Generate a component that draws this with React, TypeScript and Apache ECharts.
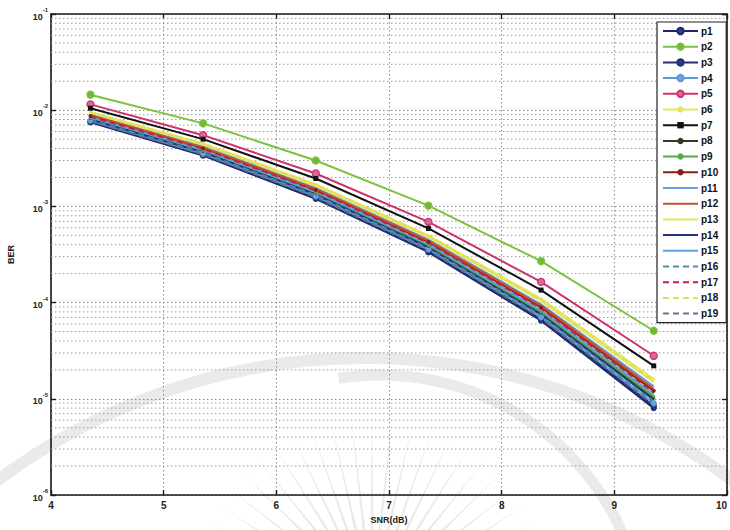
import React, { useEffect, useRef } from "react";
import * as echarts from "echarts";

// SNR sample points (dB)
const SNR_DB = [4.35, 5.35, 6.35, 7.35, 8.35, 9.35];

// BER curves, one per configuration
const p1 = [7.5e-3, 3.37e-3, 1.2e-3, 3.34e-4, 6.5e-5, 8.0e-6];
const p2 = [1.45e-2, 7.3e-3, 3.0e-3, 1.02e-3, 2.7e-4, 5.1e-5];
const p3 = [7.6e-3, 3.44e-3, 1.23e-3, 3.44e-4, 6.7e-5, 8.4e-6];
const p4 = [7.8e-3, 3.53e-3, 1.27e-3, 3.57e-4, 7.05e-5, 9.0e-6];
const p5 = [1.15e-2, 5.5e-3, 2.2e-3, 6.9e-4, 1.64e-4, 2.8e-5];
const p6 = [9.6e-3, 4.5e-3, 1.7e-3, 5.0e-4, 1.1e-4, 1.6e-5];
const p7 = [1.05e-2, 5.0e-3, 1.95e-3, 5.9e-4, 1.35e-4, 2.2e-5];
const p8 = [8.2e-3, 3.73e-3, 1.36e-3, 3.85e-4, 7.8e-5, 1.02e-5];
const p9 = [8.3e-3, 3.78e-3, 1.38e-3, 3.93e-4, 8.0e-5, 1.06e-5];
const p10 = [8.7e-3, 4.0e-3, 1.48e-3, 4.26e-4, 8.9e-5, 1.21e-5];
const p11 = [9.0e-3, 4.19e-3, 1.56e-3, 4.52e-4, 9.6e-5, 1.35e-5];
const p12 = [8.9e-3, 4.1e-3, 1.52e-3, 4.4e-4, 9.3e-5, 1.28e-5];
const p13 = [9.4e-3, 4.37e-3, 1.64e-3, 4.8e-4, 1.04e-4, 1.49e-5];
const p14 = [8.0e-3, 3.66e-3, 1.33e-3, 3.74e-4, 7.5e-5, 9.7e-6];
const p15 = [8.45e-3, 3.87e-3, 1.42e-3, 4.06e-4, 8.35e-5, 1.12e-5];
const p16 = [7.9e-3, 3.6e-3, 1.3e-3, 3.65e-4, 7.3e-5, 9.3e-6];
const p17 = [8.6e-3, 3.96e-3, 1.46e-3, 4.17e-4, 8.7e-5, 1.17e-5];
const p18 = [9.5e-3, 4.44e-3, 1.67e-3, 4.9e-4, 1.07e-4, 1.55e-5];
const p19 = [7.7e-3, 3.49e-3, 1.25e-3, 3.5e-4, 6.9e-5, 8.7e-6];

const SERIES_NAMES = [
  "p1", "p2", "p3", "p4", "p5", "p6", "p7", "p8", "p9", "p10",
  "p11", "p12", "p13", "p14", "p15", "p16", "p17", "p18", "p19",
];
const SERIES_VALUES = [
  p1, p2, p3, p4, p5, p6, p7, p8, p9, p10,
  p11, p12, p13, p14, p15, p16, p17, p18, p19,
];

// Line colour, dash and marker for each curve
type Look = { color: string; dashed?: boolean; symbol?: string; size?: number; fill?: string };
const LOOKS: Look[] = [
  { color: "#1c2a6b", symbol: "circle", size: 5, fill: "#2c3f8c" },
  { color: "#7cc23a", symbol: "circle", size: 7, fill: "#6fb83a" },
  { color: "#203078", symbol: "circle", size: 5, fill: "#2a3c8a" },
  { color: "#5c9ad6", symbol: "circle", size: 5, fill: "#6aa6de" },
  { color: "#d0306f", symbol: "circle", size: 7, fill: "#d86aa0" },
  { color: "#e6e65c", symbol: "circle", size: 3, fill: "#e6e65c" },
  { color: "#111111", symbol: "rect", size: 5, fill: "#111111" },
  { color: "#2f3d1c", symbol: "circle", size: 3, fill: "#2f3d1c" },
  { color: "#5aa84c", symbol: "circle", size: 3, fill: "#5aa84c" },
  { color: "#8c1c1c", symbol: "circle", size: 4, fill: "#8c1c1c" },
  { color: "#5fa2e2" },
  { color: "#c2522c" },
  { color: "#e4e45e" },
  { color: "#1f3682" },
  { color: "#5ca2de" },
  { color: "#4a92aa", dashed: true },
  { color: "#c22042", dashed: true },
  { color: "#dede5e", dashed: true },
  { color: "#62728f", dashed: true },
];

// Log axis range and the minor grid multiples within each decade
const Y_MIN = 1e-6;
const Y_MAX = 1e-1;
const MINOR_MULTIPLES = [2, 3, 4, 5, 6, 7, 8, 9];
const DECADES = [1e-6, 1e-5, 1e-4, 1e-3, 1e-2];
const X_MIN = 4;
const X_MAX = 10;

const FONT = "'Liberation Sans', Arial, sans-serif";
const DOTS = [1.5, 2.5];

function watermark() {
  const wm = "rgba(150,150,150,0.2)";
  const rays: any[] = [];
  const cx = 372;
  const cy = 600;
  for (let a = 205; a <= 335; a += 6.5) {
    const t = (a * Math.PI) / 180;
    const r0 = 70;
    const r1 = 185;
    const w = 0.02;
    rays.push({
      type: "polygon",
      silent: true,
      shape: {
        points: [
          [cx + r0 * Math.cos(t - w), cy + r0 * Math.sin(t - w)],
          [cx + r1 * Math.cos(t), cy + r1 * Math.sin(t)],
          [cx + r0 * Math.cos(t + w), cy + r0 * Math.sin(t + w)],
        ],
      },
      style: { fill: wm },
    });
  }
  return [
    {
      type: "group",
      silent: true,
      z: 50,
      children: [
        {
          type: "arc",
          shape: { cx: 365, cy: 970, r: 612, startAngle: Math.PI, endAngle: Math.PI * 2 },
          style: { stroke: wm, lineWidth: 12, fill: "none" },
        },
        {
          type: "arc",
          shape: { cx: 380, cy: 640, r: 265, startAngle: Math.PI * 1.45, endAngle: Math.PI * 1.95 },
          style: { stroke: wm, lineWidth: 11, fill: "none" },
        },
        ...rays,
      ],
    },
  ];
}

export default function App() {
  const ref = useRef<HTMLDivElement>(null);

  useEffect(() => {
    if (!ref.current) return;
    const chart = echarts.init(ref.current, undefined, { renderer: "svg" });

    const minorGrid: number[][] = [];
    DECADES.forEach((d) => MINOR_MULTIPLES.forEach((m) => minorGrid.push([X_MIN, m * d])));

    // dotted minor grid rows at 2..9 x 10^k
    const minorGridSeries: any = {
      type: "custom",
      silent: true,
      z: 1,
      data: minorGrid,
      renderItem: (_p: any, api: any) => {
        const v = api.value(1);
        const a = api.coord([X_MIN, v]);
        const b = api.coord([X_MAX, v]);
        return {
          type: "line",
          shape: { x1: a[0], y1: a[1], x2: b[0], y2: b[1] },
          style: { stroke: "#9a9a9a", lineWidth: 1, lineDash: DOTS },
        };
      },
    };

    const series = SERIES_NAMES.map((name, i) => {
      const look = LOOKS[i];
      return {
        name,
        type: "line",
        data: SNR_DB.map((x, j) => [x, SERIES_VALUES[i][j]]),
        symbol: look.symbol || "none",
        symbolSize: look.size || 0,
        showSymbol: !!look.symbol,
        lineStyle: {
          color: look.color,
          width: 2,
          type: look.dashed ? [6, 4] : "solid",
        },
        itemStyle: {
          color: look.fill || look.color,
          borderColor: look.color,
          borderWidth: look.symbol === "circle" && (look.size || 0) > 4 ? 1.3 : 0,
        },
        emphasis: { disabled: true },
        z: 3,
      };
    });

    const legendData = SERIES_NAMES.map((name, i) =>
      LOOKS[i].symbol
        ? { name }
        : { name, itemStyle: { opacity: 0 } }
    );

    const axisLine = { show: true, lineStyle: { color: "#1a1a1a", width: 1.6 } };
    const splitDotted = { show: true, lineStyle: { type: DOTS, color: "#8a8a8a", width: 1 } };
    const tickIn = { show: true, inside: true, length: 5, lineStyle: { color: "#1a1a1a", width: 1.4 } };
    const labelText = { fontSize: 10, fontWeight: "bold", color: "#222", fontFamily: FONT };

    chart.setOption({
      animation: false,
      backgroundColor: "#ffffff",
      textStyle: { fontFamily: FONT },
      grid: { left: 51, right: 3, top: 14, bottom: 35, containLabel: false, outerBoundsMode: "none" },
      legend: {
        orient: "vertical",
        left: 657,
        top: 22,
        data: legendData,
        selectedMode: false,
        backgroundColor: "#ffffff",
        borderColor: "#222222",
        borderWidth: 1.2,
        padding: [4, 8, 4, 5],
        itemWidth: 35,
        itemHeight: 8,
        itemGap: 5.7,
        textStyle: { ...labelText, color: "#111", lineHeight: 10, padding: [0, 0, 0, -2] },
        z: 20,
      },
      xAxis: [
        {
          type: "value",
          min: X_MIN,
          max: X_MAX,
          interval: 1,
          position: "bottom",
          axisLine,
          axisTick: tickIn,
          axisLabel: { ...labelText, margin: 5, alignMaxLabel: "right" },
          splitLine: splitDotted,
          name: "SNR(dB)",
          nameLocation: "middle",
          nameGap: 20,
          nameTextStyle: { ...labelText, fontSize: 9 },
        },
        {
          type: "value",
          min: X_MIN,
          max: X_MAX,
          interval: 1,
          position: "top",
          axisLine,
          axisTick: tickIn,
          axisLabel: { show: false },
          splitLine: { show: false },
        },
      ],
      yAxis: [
        {
          type: "log",
          logBase: 10,
          min: Y_MIN,
          max: Y_MAX,
          position: "left",
          axisLine,
          axisTick: tickIn,
          axisLabel: {
            margin: 3,
            formatter: (v: number) => `{b|10}{s|${Math.round(Math.log10(v))}}`,
            rich: {
              b: { ...labelText, fontSize: 9, lineHeight: 14, verticalAlign: "bottom" },
              s: { ...labelText, fontSize: 6, verticalAlign: "top", padding: [0, 0, 6, 0] },
            },
          },
          splitLine: splitDotted,
          name: "BER",
          nameLocation: "middle",
          nameGap: 36,
          nameTextStyle: { ...labelText, fontSize: 9 },
        },
        {
          type: "log",
          logBase: 10,
          min: Y_MIN,
          max: Y_MAX,
          position: "right",
          axisLine,
          axisTick: tickIn,
          axisLabel: { show: false },
          splitLine: { show: false },
        },
      ],
      graphic: watermark(),
      series: [minorGridSeries, ...series],
    });

    return () => chart.dispose();
  }, []);

  return (
    <div
      ref={ref}
      style={{ position: "fixed", left: 0, top: 0, width: 730, height: 530, background: "#fff" }}
    />
  );
}
